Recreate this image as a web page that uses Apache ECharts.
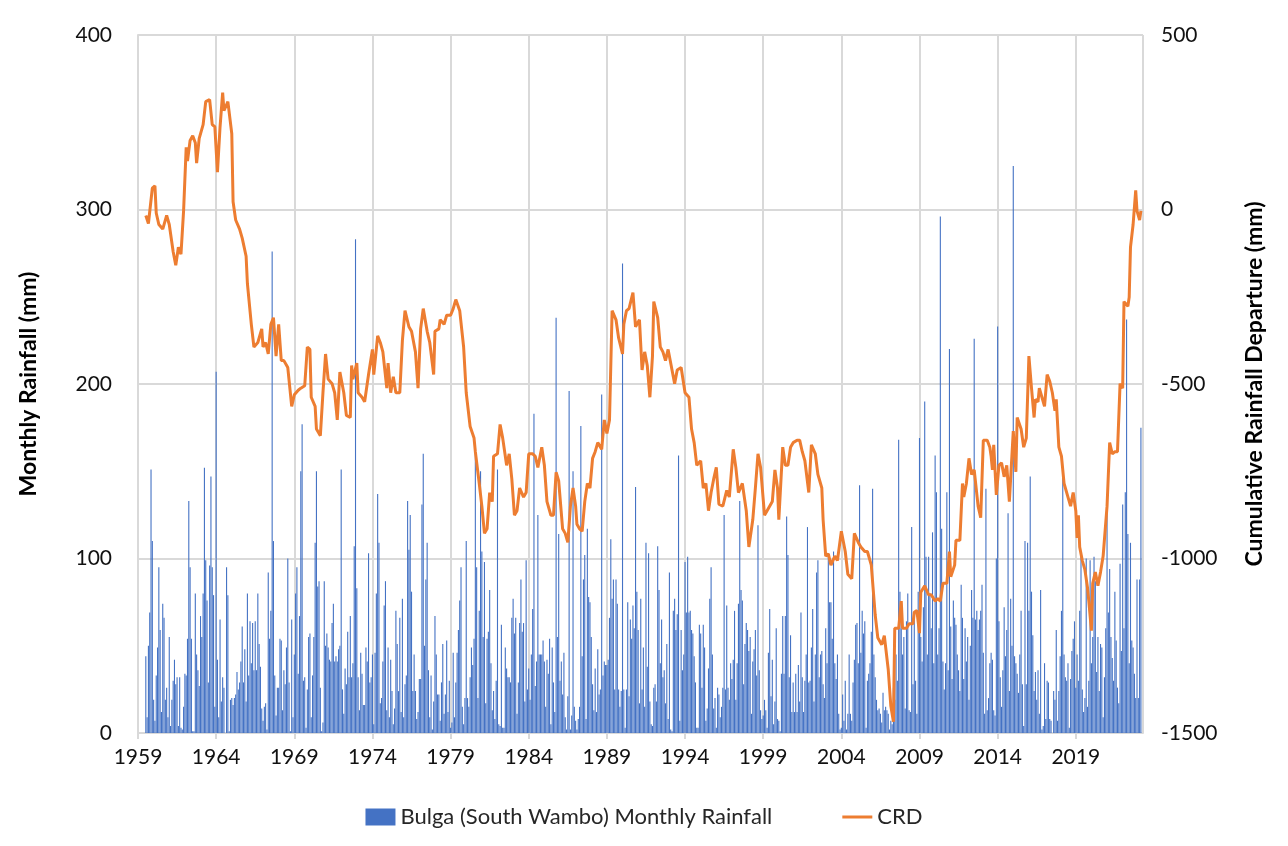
<!DOCTYPE html>
<html>
<head>
<meta charset="utf-8">
<title>Bulga (South Wambo) rainfall and CRD</title>
<script src="https://cdn.jsdelivr.net/npm/echarts@6/dist/echarts.min.js"></script>
<style>
    html, body { margin: 0; padding: 0; background: #fff; }
    #chart-main { width: 1288px; height: 846px; }
</style>
</head>
<body>
<div id="chart-main"></div>
<script>
//monthly rainfall (mm), record starts July 1959
const startYear = 1959;
const firstMonth = 6; // July

const rain1959 = [44, 9, 50, 69, 151, 110];
const rain1960s = [
    19, 7, 33, 49, 95, 59, 12, 74, 66, 19, 26, 9,
    55, 4, 19, 30, 42, 28, 32, 4, 32, 3, 2, 15,
    34, 33, 54, 133, 95, 54, 1, 1, 80, 45, 36, 27,
    67, 55, 80, 152, 99, 76, 29, 96, 147, 95, 79, 15,
    207, 42, 9, 65, 18, 32, 26, 0, 95, 79, 1, 19,
    20, 16, 20, 22, 35, 25, 29, 41, 61, 29, 48, 18,
    80, 33, 64, 40, 63, 36, 64, 36, 80, 51, 38, 14,
    7, 15, 17, 2, 92, 54, 70, 276, 110, 33, 10, 26,
    26, 54, 53, 13, 36, 28, 49, 100, 29, 1, 65, 9,
    45, 80, 95, 34, 67, 150, 177, 30, 32, 3, 25, 55
];
const rain1970s = [
    57, 9, 33, 55, 109, 150, 84, 87, 26, 1, 6, 87,
    50, 57, 49, 42, 41, 63, 74, 41, 44, 41, 48, 50,
    151, 25, 11, 37, 28, 58, 32, 67, 32, 40, 107, 283,
    83, 32, 13, 46, 34, 16, 16, 49, 41, 103, 29, 32,
    45, 5, 46, 80, 137, 109, 17, 20, 41, 73, 87, 13,
    49, 9, 42, 24, 5, 14, 70, 51, 24, 66, 12, 77,
    9, 28, 33, 133, 105, 125, 81, 24, 45, 24, 8, 12,
    31, 31, 131, 160, 50, 88, 109, 36, 9, 33, 2, 18,
    67, 45, 22, 22, 7, 29, 51, 11, 22, 53, 12, 30,
    3, 6, 46, 9, 29, 46, 59, 76, 95, 15, 5, 20
];
const rain1980s = [
    110, 20, 15, 32, 49, 39, 54, 164, 95, 20, 70, 150,
    104, 55, 98, 17, 54, 58, 82, 40, 13, 24, 8, 30,
    151, 5, 4, 62, 3, 3, 49, 37, 32, 32, 29, 66,
    77, 57, 66, 11, 29, 63, 88, 58, 63, 18, 99, 25,
    37, 19, 45, 71, 183, 27, 41, 125, 45, 45, 45, 53,
    41, 15, 42, 34, 54, 5, 49, 29, 12, 238, 55, 114,
    30, 41, 22, 46, 9, 2, 21, 196, 2, 10, 150, 15,
    7, 2, 8, 15, 176, 44, 88, 102, 8, 117, 78, 75,
    55, 28, 13, 37, 12, 48, 22, 25, 194, 33, 41, 39,
    39, 42, 66, 111, 77, 88, 25, 88, 74, 25, 15, 24
];
const rain1990s = [
    269, 25, 3, 25, 75, 21, 65, 54, 73, 60, 141, 81,
    59, 17, 77, 25, 49, 15, 109, 38, 103, 18, 5, 4,
    26, 28, 18, 107, 82, 40, 65, 32, 36, 17, 51, 8,
    92, 2, 1, 70, 77, 59, 68, 159, 7, 59, 36, 45,
    98, 69, 101, 69, 70, 59, 57, 44, 29, 3, 3, 62,
    57, 26, 62, 49, 7, 14, 37, 77, 95, 45, 14, 20,
    3, 26, 22, 9, 15, 26, 125, 25, 73, 26, 19, 40,
    31, 42, 70, 19, 40, 74, 133, 82, 76, 28, 51, 63,
    59, 47, 55, 11, 41, 48, 59, 33, 119, 36, 13, 8,
    10, 19, 13, 3, 46, 71, 21, 42, 5, 18, 60, 8
];
const rain2000s = [
    7, 1, 34, 67, 34, 67, 124, 102, 32, 56, 12, 29,
    12, 34, 12, 39, 18, 69, 32, 12, 30, 45, 118, 29,
    30, 49, 71, 18, 45, 92, 99, 32, 45, 47, 28, 20,
    60, 40, 103, 75, 75, 54, 104, 40, 31, 45, 11, 2,
    3, 22, 7, 30, 2, 11, 45, 11, 7, 29, 42, 62,
    63, 40, 142, 46, 70, 57, 64, 3, 30, 34, 40, 58,
    140, 45, 32, 19, 13, 14, 11, 6, 23, 13, 15, 13,
    11, 2, 7, 5, 26, 19, 45, 30, 168, 81, 60, 45,
    55, 14, 64, 80, 13, 12, 118, 28, 69, 30, 11, 81,
    169, 55, 41, 72, 190, 101, 45, 101, 80, 60, 115, 40
];
const rain2010s = [
    159, 138, 45, 60, 296, 117, 41, 25, 40, 138, 36, 220,
    61, 31, 76, 66, 62, 45, 36, 24, 85, 66, 31, 60,
    41, 55, 19, 50, 82, 66, 226, 65, 70, 59, 65, 70,
    85, 46, 11, 140, 13, 20, 40, 46, 42, 13, 10, 100,
    233, 64, 32, 15, 36, 72, 44, 59, 126, 24, 77, 50,
    325, 44, 40, 34, 23, 45, 70, 28, 4, 110, 28, 109,
    70, 147, 81, 56, 24, 35, 19, 36, 11, 82, 2, 4,
    40, 8, 30, 29, 8, 7, 0, 24, 19, 59, 7, 24,
    44, 70, 150, 45, 32, 30, 40, 3, 31, 47, 54, 64,
    26, 45, 30, 70, 103, 25, 12, 20, 100, 15, 30, 99
];
const rain2020s = [
    40, 55, 101, 87, 35, 55, 24, 51, 49, 9, 32, 60,
    133, 69, 94, 55, 43, 30, 81, 53, 26, 17, 97, 47,
    131, 60, 138, 237, 114, 40, 109, 53, 49, 34, 20, 88,
    20, 88, 175
];

//cumulative rainfall departure (mm)
const crd1960s = [
    ['1959-07', -17], ['1959-09', -40], ['1959-12', 61], ['1960-02', 68], ['1960-03', -10], ['1960-05', -43],
    ['1960-08', -56], ['1960-11', -17], ['1961-01', -43], ['1961-04', -121], ['1961-06', -160], ['1961-08', -108],
    ['1961-10', -128], ['1961-12', -4], ['1962-02', 178], ['1962-03', 139], ['1962-05', 198], ['1962-07', 211],
    ['1962-09', 191], ['1962-10', 133], ['1962-12', 204], ['1963-03', 243], ['1963-05', 309], ['1963-08', 315],
    ['1963-10', 243], ['1963-12', 237], ['1964-02', 107], ['1964-04', 237], ['1964-06', 335], ['1964-07', 283],
    ['1964-10', 309], ['1965-01', 217], ['1965-02', 22], ['1965-04', -30], ['1965-07', -56], ['1965-09', -82],
    ['1965-12', -134], ['1966-01', -212], ['1966-04', -329], ['1966-06', -394], ['1966-09', -381], ['1966-12', -342],
    ['1967-01', -394], ['1967-03', -381], ['1967-05', -414], ['1967-07', -329], ['1967-09', -310], ['1967-11', -420],
    ['1968-01', -329], ['1968-03', -433], ['1968-05', -433], ['1968-08', -453], ['1968-11', -564], ['1969-01', -531],
    ['1969-04', -518], ['1969-06', -512], ['1969-09', -505], ['1969-11', -394]
];
const crd1970s = [
    ['1970-01', -401], ['1970-02', -538], ['1970-05', -564], ['1970-06', -629], ['1970-09', -648], ['1970-11', -525],
    ['1971-01', -414], ['1971-03', -486], ['1971-06', -499], ['1971-08', -525], ['1971-10', -603], ['1971-12', -466],
    ['1972-03', -525], ['1972-05', -590], ['1972-08', -596], ['1972-09', -447], ['1972-10', -486], ['1973-01', -440],
    ['1973-02', -525], ['1973-05', -538], ['1973-07', -551], ['1973-10', -473], ['1974-01', -401], ['1974-02', -473],
    ['1974-05', -362], ['1974-07', -381], ['1974-09', -408], ['1974-12', -512], ['1975-01', -440], ['1975-03', -525],
    ['1975-05', -479], ['1975-07', -525], ['1975-10', -525], ['1975-12', -375], ['1976-02', -290], ['1976-05', -336],
    ['1976-07', -349], ['1976-10', -408], ['1976-12', -512], ['1977-02', -342], ['1977-04', -284], ['1977-07', -349],
    ['1977-09', -381], ['1977-12', -473], ['1978-01', -349], ['1978-04', -342], ['1978-05', -316], ['1978-08', -329],
    ['1978-10', -303], ['1979-01', -303], ['1979-03', -284], ['1979-05', -258], ['1979-08', -290], ['1979-11', -394]
];
const crd1980s = [
    ['1980-01', -525], ['1980-04', -622], ['1980-07', -655], ['1980-08', -694], ['1980-11', -785], ['1981-01', -850],
    ['1981-03', -928], ['1981-05', -915], ['1981-07', -811], ['1981-09', -837], ['1981-10', -707], ['1982-01', -700],
    ['1982-03', -616], ['1982-05', -655], ['1982-08', -733], ['1982-10', -700], ['1982-12', -772], ['1983-02', -876],
    ['1983-04', -863], ['1983-06', -798], ['1983-09', -824], ['1983-11', -811], ['1984-01', -700], ['1984-04', -700],
    ['1984-06', -707], ['1984-08', -739], ['1984-11', -681], ['1985-01', -733], ['1985-03', -837], ['1985-06', -876],
    ['1985-08', -876], ['1985-10', -753], ['1985-12', -778], ['1986-03', -915], ['1986-05', -928], ['1986-07', -954],
    ['1986-09', -850], ['1986-11', -798], ['1987-01', -850], ['1987-02', -902], ['1987-04', -915], ['1987-06', -922],
    ['1987-08', -837], ['1987-10', -785], ['1987-12', -798], ['1988-02', -713], ['1988-04', -694], ['1988-06', -668],
    ['1988-09', -687], ['1988-11', -603], ['1989-01', -642], ['1989-03', -603], ['1989-05', -290], ['1989-08', -316],
    ['1989-10', -368]
];
const crd1990s = [
    ['1990-01', -414], ['1990-02', -329], ['1990-04', -290], ['1990-06', -284], ['1990-09', -238], ['1990-11', -336],
    ['1991-02', -316], ['1991-04', -460], ['1991-06', -408], ['1991-08', -447], ['1991-10', -538], ['1991-12', -420],
    ['1992-01', -264], ['1992-04', -310], ['1992-06', -394], ['1992-08', -408], ['1992-10', -433], ['1992-12', -401],
    ['1993-03', -460], ['1993-05', -499], ['1993-07', -460], ['1993-10', -453], ['1994-01', -525], ['1994-04', -538],
    ['1994-06', -629], ['1994-08', -668], ['1994-10', -733], ['1995-01', -720], ['1995-03', -798], ['1995-05', -785],
    ['1995-07', -863], ['1995-09', -811], ['1995-11', -772], ['1996-01', -739], ['1996-03', -844], ['1996-06', -850],
    ['1996-09', -805], ['1996-11', -824], ['1997-02', -687], ['1997-04', -739], ['1997-06', -811], ['1997-09', -785],
    ['1997-12', -863], ['1998-02', -967], ['1998-05', -889], ['1998-07', -798], ['1998-09', -700], ['1998-11', -739],
    ['1999-02', -876], ['1999-04', -863], ['1999-08', -837], ['1999-10', -746], ['1999-12', -798]
];
const crd2000s = [
    ['2000-01', -889], ['2000-04', -681], ['2000-06', -733], ['2000-08', -733], ['2000-10', -681], ['2000-12', -668],
    ['2001-03', -661], ['2001-05', -661], ['2001-07', -694], ['2001-09', -720], ['2001-12', -811], ['2002-02', -674],
    ['2002-05', -700], ['2002-07', -759], ['2002-10', -798], ['2002-11', -889], ['2003-01', -993], ['2003-03', -987],
    ['2003-05', -1019], ['2003-08', -993], ['2003-10', -1006], ['2004-01', -922], ['2004-04', -980], ['2004-06', -1045],
    ['2004-09', -1058], ['2004-11', -928], ['2005-02', -954], ['2005-04', -967], ['2005-07', -980], ['2005-09', -980],
    ['2005-12', -1019], ['2006-03', -1162], ['2006-05', -1227], ['2006-08', -1247], ['2006-10', -1221], ['2007-01', -1318],
    ['2007-03', -1423], ['2007-05', -1468], ['2007-06', -1200], ['2007-09', -1200], ['2007-11', -1122], ['2007-12', -1200],
    ['2008-03', -1200], ['2008-05', -1187], ['2008-08', -1187], ['2008-09', -1154], ['2008-11', -1149], ['2009-01', -1214],
    ['2009-02', -1097], ['2009-05', -1078], ['2009-08', -1104], ['2009-10', -1104]
];
const crd2010s = [
    ['2010-01', -1122], ['2010-03', -1115], ['2010-05', -1122], ['2010-07', -1071], ['2010-10', -1071], ['2010-12', -980],
    ['2011-01', -1052], ['2011-04', -1019], ['2011-05', -948], ['2011-08', -948], ['2011-10', -785], ['2011-11', -824],
    ['2012-01', -785], ['2012-03', -713], ['2012-05', -759], ['2012-07', -746], ['2012-10', -850], ['2012-12', -883],
    ['2013-02', -661], ['2013-05', -661], ['2013-07', -681], ['2013-08', -707], ['2013-09', -746], ['2013-10', -674],
    ['2013-12', -818], ['2014-02', -733], ['2014-04', -726], ['2014-06', -766], ['2014-08', -733], ['2014-10', -837],
    ['2015-01', -635], ['2015-03', -752], ['2015-04', -596], ['2015-07', -629], ['2015-09', -681], ['2015-11', -655],
    ['2016-01', -420], ['2016-03', -512], ['2016-05', -596], ['2016-06', -544], ['2016-08', -551], ['2016-09', -512],
    ['2016-11', -538], ['2017-01', -564], ['2017-03', -473], ['2017-05', -492], ['2017-07', -525], ['2017-09', -577],
    ['2017-10', -544], ['2017-12', -681], ['2018-02', -707], ['2018-04', -785], ['2018-07', -824], ['2018-09', -850],
    ['2018-11', -811], ['2019-01', -863], ['2019-02', -941], ['2019-03', -876], ['2019-04', -967], ['2019-06', -1006],
    ['2019-08', -1032], ['2019-10', -1084], ['2019-11', -1122]
];
const crd2020s = [
    ['2020-01', -1207], ['2020-02', -1071], ['2020-04', -1039], ['2020-06', -1078], ['2020-08', -1039], ['2020-10', -993],
    ['2020-11', -993], ['2021-01', -850], ['2021-03', -668], ['2021-05', -700], ['2021-07', -694], ['2021-09', -694],
    ['2021-11', -499], ['2022-01', -512], ['2022-02', -264], ['2022-05', -277], ['2022-06', -251], ['2022-07', -108],
    ['2022-09', -43], ['2022-11', 55], ['2022-12', -4], ['2023-02', -30], ['2023-03', -4]
];

const xTickYears = 5;   // label every 5 years
const axisEnd = 64.3;   // years after Jan 1959 shown


function monthToX(str) {
    let [y, m] = str.split('-').map(Number);
    return y - startYear + (m - 1) / 12;
}

function chartRender() {
    var myChart = echarts.init(document.getElementById('chart-main'));

    let rain = [].concat(rain1959, rain1960s, rain1970s, rain1980s, rain1990s, rain2000s, rain2010s, rain2020s);
    let rainData = rain.map((v, i) => [(firstMonth + i) / 12, v]);
    let crd = [].concat(crd1960s, crd1970s, crd1980s, crd1990s, crd2000s, crd2010s, crd2020s);
    let crdData = crd.map(d => [monthToX(d[0]), d[1]]);

    var font = 'Lato, "Liberation Sans", sans-serif';
    var gridColor = '#d9d9d9';
    var lineIcon = 'path://M0,0 L30,0 L30,3 L0,3 Z';

    option = {
        animation: false,
        backgroundColor: '#fff',
        textStyle: { fontFamily: font },
        grid: { left: 138, right: 145, top: 35, bottom: 113 },
        legend: {
            bottom: 13,
            left: 'center',
            itemGap: 70,
            itemWidth: 30,
            itemHeight: 17,
            textStyle: { fontSize: 22, color: '#262626', fontFamily: font },
            data: [
                { name: 'Bulga (South Wambo) Monthly Rainfall', icon: 'rect' },
                { name: 'CRD', icon: lineIcon }
            ]
        },
        xAxis: {
            type: 'value',
            min: 0,
            max: axisEnd,
            interval: xTickYears,
            axisLine: { show: true, lineStyle: { color: gridColor, width: 2 } },
            axisTick: { show: true, length: 6, lineStyle: { color: gridColor, width: 2 } },
            splitLine: { show: true, lineStyle: { color: gridColor, width: 2 } },
            axisLabel: {
                showMaxLabel: false,
                margin: 14,
                fontSize: 21,
                color: '#111',
                formatter: v => String(startYear + Math.round(v))
            }
        },
        yAxis: [{
            type: 'value',
            min: 0,
            max: 400,
            interval: 100,
            name: 'Monthly Rainfall (mm)',
            nameLocation: 'middle',
            nameRotate: 90,
            nameGap: 98,
            nameTextStyle: { fontSize: 23, fontWeight: 'bold', color: '#000', fontFamily: font },
            axisLine: { show: true, lineStyle: { color: gridColor, width: 2 } },
            axisTick: { show: false },
            splitLine: { show: true, lineStyle: { color: gridColor, width: 2 } },
            axisLabel: { fontSize: 21, color: '#111', margin: 26 }
        }, {
            type: 'value',
            min: -1500,
            max: 500,
            interval: 500,
            name: 'Cumulative Rainfall Departure (mm)',
            nameLocation: 'middle',
            nameRotate: 90,
            nameGap: 100,
            nameTextStyle: { fontSize: 23, fontWeight: 'bold', color: '#000', fontFamily: font },
            axisLine: { show: false },
            axisTick: { show: false },
            splitLine: { show: false },
            axisLabel: { fontSize: 21, color: '#111', margin: 18, formatter: v => String(v) }
        }],
        series: [{
                name: 'Bulga (South Wambo) Monthly Rainfall',
                type: 'bar',
                yAxisIndex: 0,
                barWidth: 1.1,
                itemStyle: { color: '#4472C4' },
                data: rainData
            },
            {
                name: 'CRD',
                type: 'line',
                yAxisIndex: 1,
                symbol: 'none',
                showSymbol: false,
                z: 5,
                lineStyle: { color: '#ED7D31', width: 3 },
                itemStyle: { color: '#ED7D31' },
                data: crdData
            }
        ]
    };
    myChart.setOption(option);
}

chartRender();
</script>
</body>
</html>
